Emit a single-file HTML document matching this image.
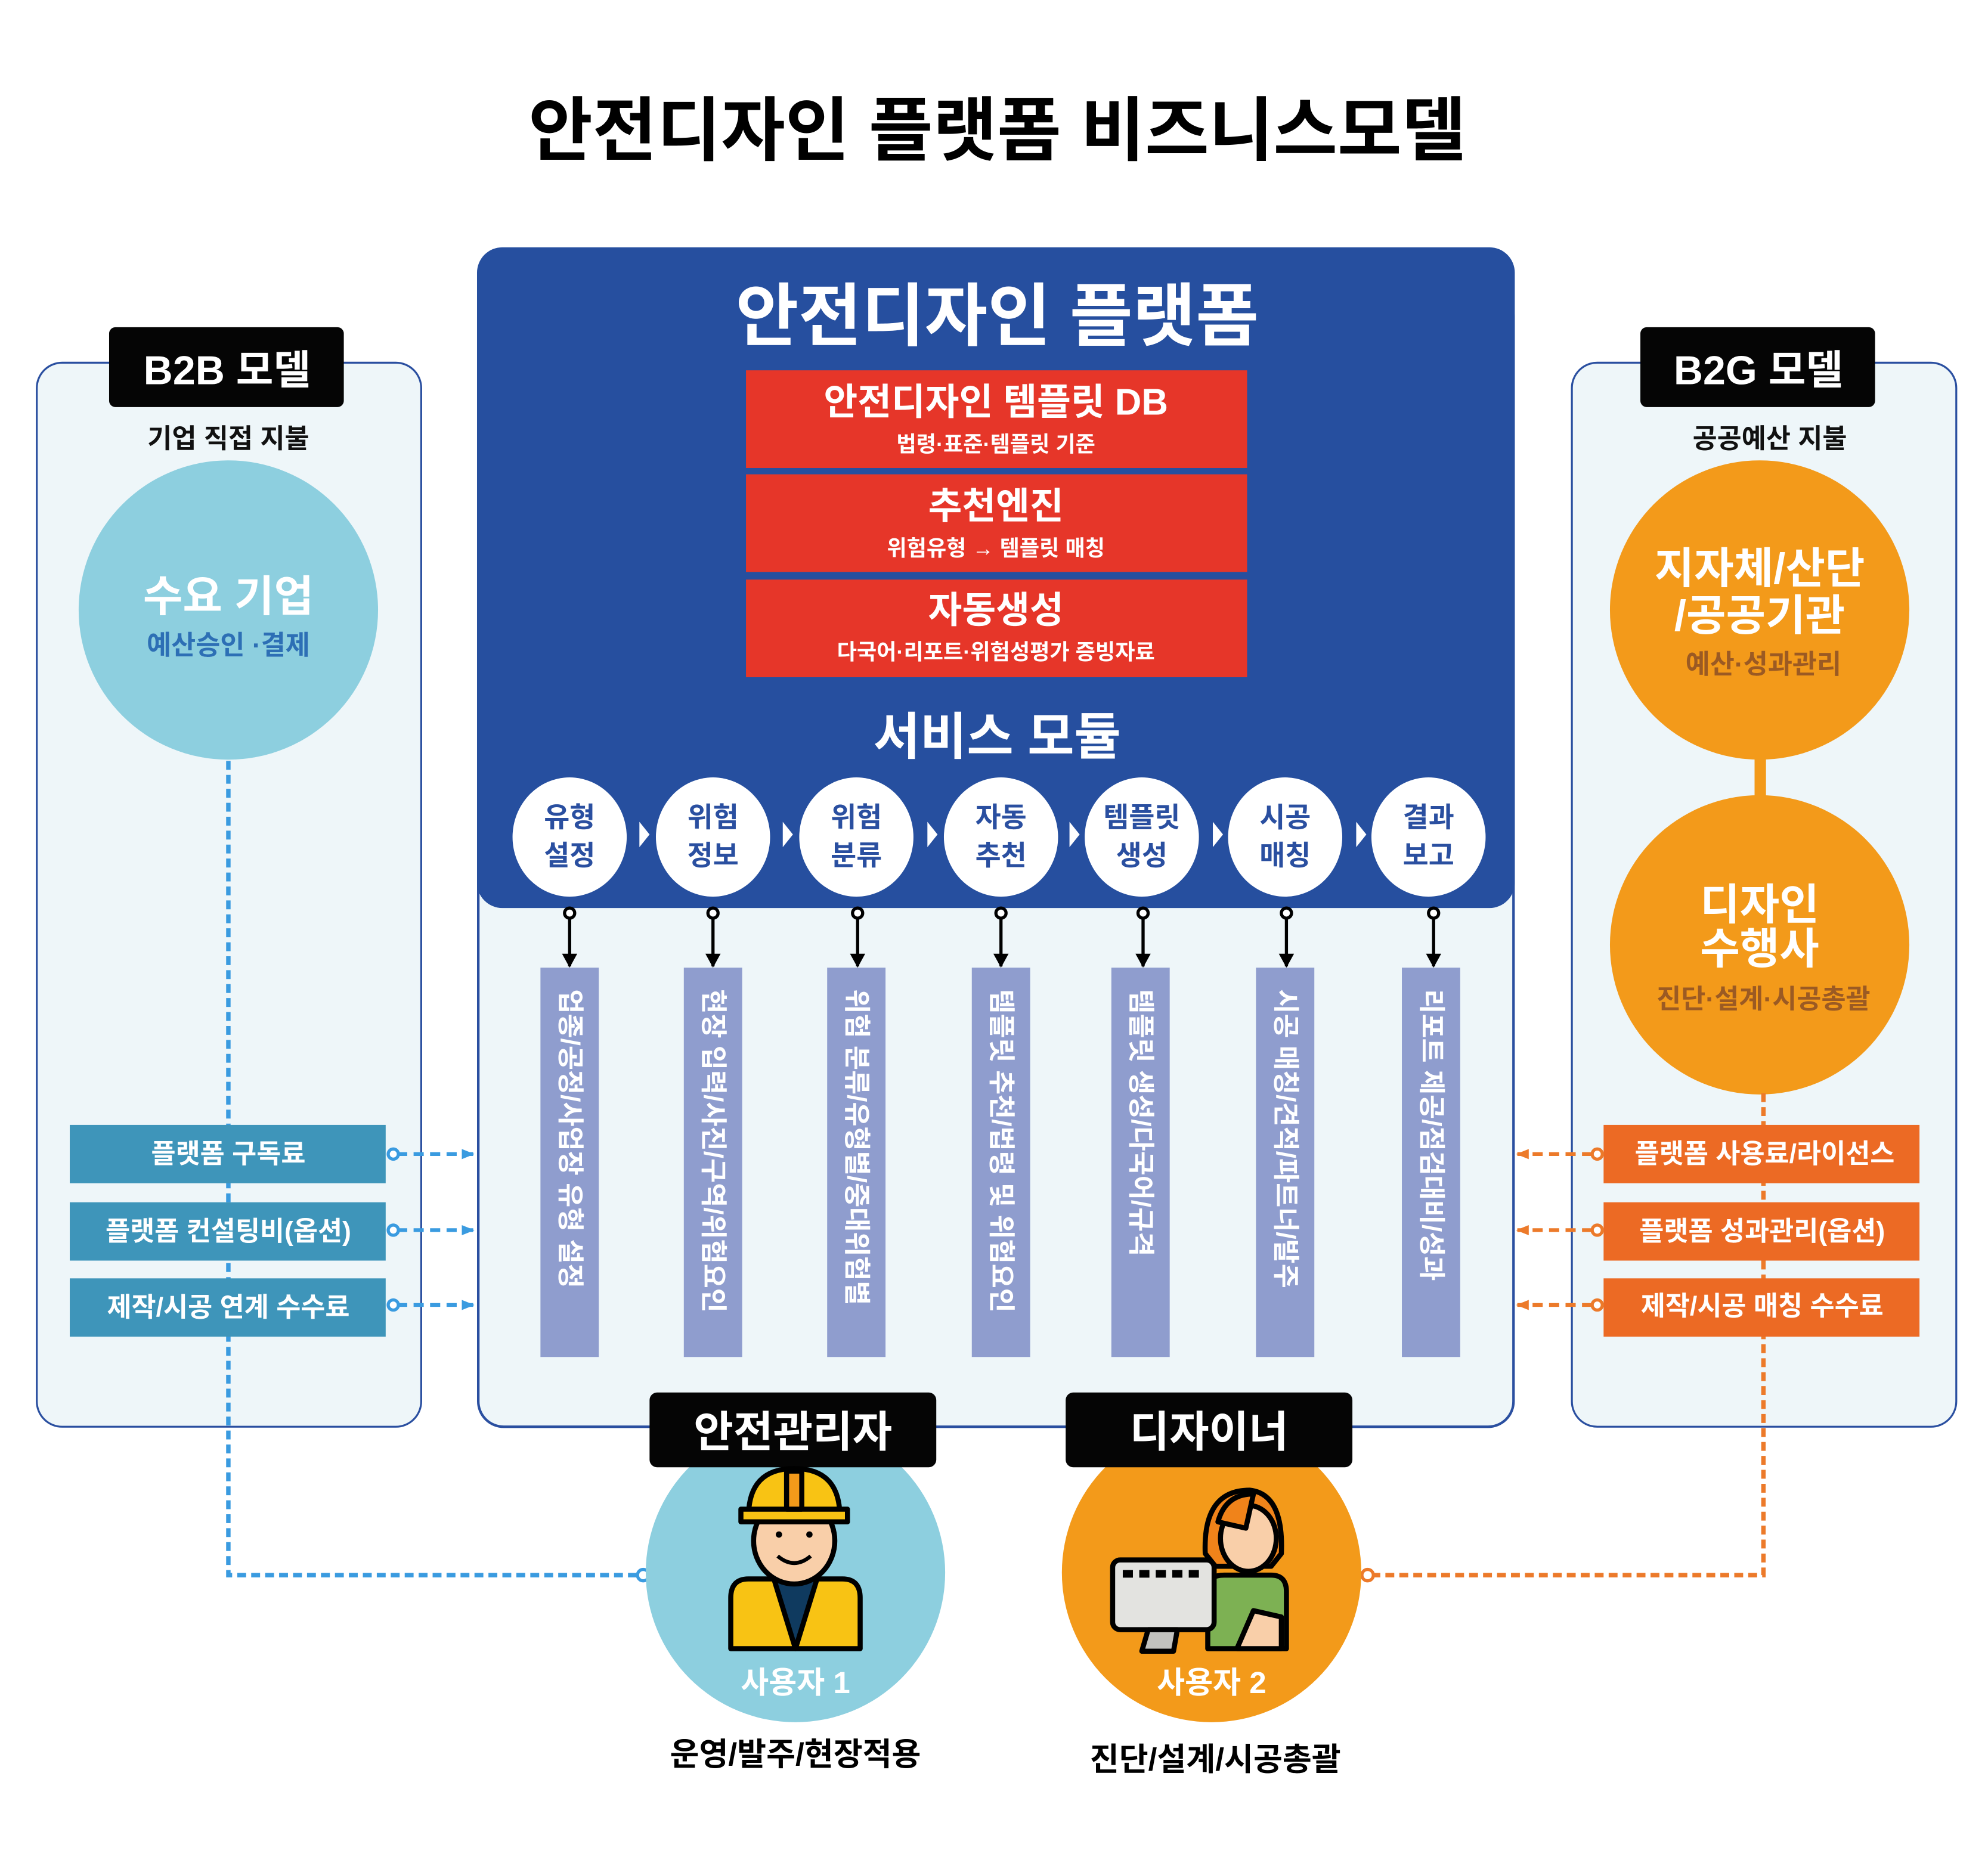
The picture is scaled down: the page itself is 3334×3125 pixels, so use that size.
<!DOCTYPE html>
<html><head><meta charset="utf-8"><style>
html,body{margin:0;padding:0;background:#fff}
svg{display:block}
text{font-family:"Liberation Sans","Noto Sans CJK KR",sans-serif;font-weight:bold}
</style></head><body>
<svg width="3334" height="3125" viewBox="0 0 1567 1469" preserveAspectRatio="none" xmlns="http://www.w3.org/2000/svg">
<defs>
<marker id="ab" markerWidth="10" markerHeight="10" refX="9" refY="5" orient="auto" markerUnits="userSpaceOnUse"><path d="M0,1 L10,5 L0,9 Z" fill="#3a9be0"/></marker>
<marker id="ao" markerWidth="10" markerHeight="10" refX="9" refY="5" orient="auto" markerUnits="userSpaceOnUse"><path d="M0,1 L10,5 L0,9 Z" fill="#ec7a2a"/></marker>
<marker id="ak" markerWidth="12" markerHeight="12" refX="10" refY="6" orient="auto" markerUnits="userSpaceOnUse"><path d="M0,0 L11,6 L0,12 Z" fill="#000"/></marker>
</defs>
<rect width="1567" height="1469" fill="#fff"/>
<text x="786" y="122" font-size="55" text-anchor="middle" fill="#000">안전디자인 플랫폼 비즈니스모델</text>

<!-- left panel -->
<rect x="29" y="286" width="303" height="839" rx="20" fill="#eef6f9" stroke="#2a4fa0" stroke-width="1.5"/>
<rect x="86" y="258" width="185" height="63" rx="5" fill="#050505"/>
<text x="179" y="303" font-size="32" text-anchor="middle" fill="#fff">B2B 모델</text>
<text x="180" y="353" font-size="21" text-anchor="middle" fill="#111">기업 직접 지불</text>
<circle cx="180" cy="481" r="118" fill="#8dcfdf"/>
<text x="180" y="482" font-size="34" text-anchor="middle" fill="#fff">수요 기업</text>
<text x="180" y="516" font-size="21" text-anchor="middle" fill="#2d6fb5">예산승인 ·결제</text>
<path d="M180,600 L180,1242 L503,1242" fill="none" stroke="#3a9be0" stroke-width="3.5" stroke-dasharray="7,4"/>
<circle cx="507" cy="1242" r="4.5" fill="#fff" stroke="#3a9be0" stroke-width="2.5"/>
<g fill="#3e95ba"><rect x="55" y="887" width="249" height="46"/><rect x="55" y="948" width="249" height="46"/><rect x="55" y="1008" width="249" height="46"/></g>
<g font-size="21" fill="#fff" text-anchor="middle"><text x="180" y="917">플랫폼 구독료</text><text x="180" y="978">플랫폼 컨설팅비(옵션)</text><text x="180" y="1038">제작/시공 연계 수수료</text></g>
<g stroke="#3a9be0" stroke-width="3" stroke-dasharray="8,5" fill="none">
<path d="M313,910 L373,910" marker-end="url(#ab)"/><path d="M313,970 L373,970" marker-end="url(#ab)"/><path d="M313,1029 L373,1029" marker-end="url(#ab)"/></g>
<g fill="#fff" stroke="#3a9be0" stroke-width="2.5"><circle cx="310" cy="910" r="4"/><circle cx="310" cy="970" r="4"/><circle cx="310" cy="1029" r="4"/></g>

<!-- right panel -->
<rect x="1239" y="286" width="303" height="839" rx="20" fill="#eef6f9" stroke="#2a4fa0" stroke-width="1.5"/>
<rect x="1293" y="258" width="185" height="63" rx="5" fill="#050505"/>
<text x="1386" y="303" font-size="32" text-anchor="middle" fill="#fff">B2G 모델</text>
<text x="1395" y="353" font-size="21" text-anchor="middle" fill="#111">공공예산 지불</text>
<rect x="1383" y="595" width="9" height="36" fill="#f39a1a"/>
<circle cx="1387" cy="481" r="118" fill="#f39a1a"/>
<circle cx="1387" cy="745" r="118" fill="#f39a1a"/>
<g font-size="34" fill="#fff" text-anchor="middle"><text x="1387" y="460">지자체/산단</text><text x="1387" y="497">/공공기관</text><text x="1387" y="725">디자인</text><text x="1387" y="760">수행사</text></g>
<g font-size="21" fill="#9b5a23" text-anchor="middle"><text x="1390" y="531">예산·성과관리</text><text x="1390" y="795">진단·설계·시공총괄</text></g>
<path d="M1390,862 L1390,1242 L1082,1242" fill="none" stroke="#ec7a2a" stroke-width="3.5" stroke-dasharray="7,4"/>
<circle cx="1078" cy="1242" r="4.5" fill="#fff" stroke="#ec7a2a" stroke-width="2.5"/>
<g fill="#ec6a24"><rect x="1264" y="887" width="249" height="46"/><rect x="1264" y="948" width="249" height="46"/><rect x="1264" y="1008" width="249" height="46"/></g>
<g font-size="21" fill="#fff" text-anchor="middle"><text x="1391" y="917">플랫폼 사용료/라이선스</text><text x="1389" y="978">플랫폼 성과관리(옵션)</text><text x="1389" y="1037">제작/시공 매칭 수수료</text></g>
<g stroke="#ec7a2a" stroke-width="3" stroke-dasharray="8,5" fill="none">
<path d="M1255,910 L1196,910" marker-end="url(#ao)"/><path d="M1255,970 L1196,970" marker-end="url(#ao)"/><path d="M1255,1029 L1196,1029" marker-end="url(#ao)"/></g>
<g fill="#fff" stroke="#ec7a2a" stroke-width="2.5"><circle cx="1259" cy="910" r="4"/><circle cx="1259" cy="970" r="4"/><circle cx="1259" cy="1029" r="4"/></g>

<!-- main platform -->
<rect x="377" y="230" width="816" height="895" rx="20" fill="#eef6f9" stroke="#2a4fa0" stroke-width="2"/>
<rect x="376" y="195" width="818" height="521" rx="20" fill="#264f9f"/>
<text x="786" y="268" font-size="54" text-anchor="middle" fill="#fff">안전디자인 플랫폼</text>
<g fill="#e63629"><rect x="588" y="292" width="395" height="77"/><rect x="588" y="374" width="395" height="77"/><rect x="588" y="457" width="395" height="77"/></g>
<g fill="#fff" text-anchor="middle">
<text x="785" y="327" font-size="29">안전디자인 템플릿 DB</text><text x="785" y="356" font-size="17" font-weight="normal">법령·표준·템플릿 기준</text>
<text x="785" y="409" font-size="29">추천엔진</text><text x="785" y="438" font-size="17" font-weight="normal">위험유형 → 템플릿 매칭</text>
<text x="785" y="491" font-size="29">자동생성</text><text x="785" y="520" font-size="17" font-weight="normal">다국어·리포트·위험성평가 증빙자료</text>
<text x="786" y="595" font-size="40">서비스 모듈</text></g>
<g fill="#fff">
<ellipse cx="449" cy="660" rx="45" ry="47"/><ellipse cx="562" cy="660" rx="45" ry="47"/><ellipse cx="675" cy="660" rx="45" ry="47"/><ellipse cx="789" cy="660" rx="45" ry="47"/><ellipse cx="900" cy="660" rx="45" ry="47"/><ellipse cx="1013" cy="660" rx="45" ry="47"/><ellipse cx="1126" cy="660" rx="45" ry="47"/>
<path d="M504,648 L512,658 L504,668Z"/><path d="M617,648 L625,658 L617,668Z"/><path d="M731,648 L739,658 L731,668Z"/><path d="M843,648 L851,658 L843,668Z"/><path d="M956,648 L964,658 L956,668Z"/><path d="M1069,648 L1077,658 L1069,668Z"/>
</g>
<g font-size="22" fill="#2a4fa0" text-anchor="middle">
<text x="449" y="652">유형</text><text x="449" y="682">설정</text>
<text x="562" y="652">위험</text><text x="562" y="682">정보</text>
<text x="675" y="652">위험</text><text x="675" y="682">분류</text>
<text x="789" y="652">자동</text><text x="789" y="682">추천</text>
<text x="900" y="652">템플릿</text><text x="900" y="682">생성</text>
<text x="1013" y="652">시공</text><text x="1013" y="682">매칭</text>
<text x="1126" y="652">결과</text><text x="1126" y="682">보고</text></g>
<g stroke="#000" stroke-width="2.5" fill="none">
<path d="M449,724 L449,762" marker-end="url(#ak)"/><path d="M562,724 L562,762" marker-end="url(#ak)"/><path d="M676,724 L676,762" marker-end="url(#ak)"/><path d="M789,724 L789,762" marker-end="url(#ak)"/><path d="M901,724 L901,762" marker-end="url(#ak)"/><path d="M1014,724 L1014,762" marker-end="url(#ak)"/><path d="M1130,724 L1130,762" marker-end="url(#ak)"/></g>
<g fill="#fff" stroke="#000" stroke-width="2.5"><circle cx="449" cy="720" r="4"/><circle cx="562" cy="720" r="4"/><circle cx="676" cy="720" r="4"/><circle cx="789" cy="720" r="4"/><circle cx="901" cy="720" r="4"/><circle cx="1014" cy="720" r="4"/><circle cx="1130" cy="720" r="4"/></g>
<g fill="#8f9dce"><rect x="426" y="763" width="46" height="307"/><rect x="539" y="763" width="46" height="307"/><rect x="652" y="763" width="46" height="307"/><rect x="766" y="763" width="46" height="307"/><rect x="876" y="763" width="46" height="307"/><rect x="990" y="763" width="46" height="307"/><rect x="1105" y="763" width="46" height="307"/></g>
<g font-size="21" fill="#fff" dominant-baseline="central">
<text transform="translate(449,780) rotate(90)">업종/공정/사업장 유형 설정</text>
<text transform="translate(562,780) rotate(90)">현장 입력/사진/구역/위험요인</text>
<text transform="translate(675,780) rotate(90)">위험 분류/유형별/중대위험별</text>
<text transform="translate(789,780) rotate(90)">템플릿 추천/법령 및 위험요인</text>
<text transform="translate(899,780) rotate(90)">템플릿 생성/다국어/규격</text>
<text transform="translate(1013,780) rotate(90)">시공 매칭/견적/파트너/발주</text>
<text transform="translate(1128,780) rotate(90)">리포트 제공/점검대비/성과</text></g>

<!-- users -->
<circle cx="627" cy="1240" r="118" fill="#8dcfdf"/>
<circle cx="955" cy="1240" r="118" fill="#f39a1a"/>
<rect x="512" y="1098" width="226" height="59" rx="6" fill="#050505"/>
<rect x="840" y="1098" width="226" height="59" rx="6" fill="#050505"/>
<g fill="#fff" text-anchor="middle" font-size="34"><text x="625" y="1141">안전관리자</text><text x="953" y="1141">디자이너</text></g>
<g fill="#fff" text-anchor="middle" font-size="24"><text x="627" y="1335">사용자 1</text><text x="955" y="1335">사용자 2</text></g>
<g fill="#000" text-anchor="middle" font-size="25"><text x="627" y="1392">운영/발주/현장적용</text><text x="958" y="1396">진단/설계/시공총괄</text></g>

<!-- worker icon -->
<g stroke="#000" stroke-width="4" stroke-linejoin="round">
<path d="M576,1300 L576,1260 Q576,1245 590,1245 L664,1245 Q678,1245 678,1260 L678,1300 Z" fill="#f8c314"/>
<path d="M610,1245 L627,1300 L644,1245 Z" fill="#0f3a5f"/>
<ellipse cx="626" cy="1215" rx="32" ry="34" fill="#f9cfa9"/>
<path d="M590,1196 Q590,1158 626,1158 Q662,1158 662,1196 Z" fill="#f8c314"/>
<rect x="584" y="1190" width="84" height="10" fill="#f8c314"/>
<rect x="620" y="1160" width="12" height="30" fill="#f39a1a"/>
</g>
<path d="M613,1227 Q626,1238 639,1227" stroke="#000" stroke-width="3" fill="none"/>
<circle cx="614" cy="1210" r="2.5"/><circle cx="638" cy="1210" r="2.5"/>

<!-- designer icon -->
<g stroke="#000" stroke-width="4" stroke-linejoin="round">
<path d="M952,1300 L952,1252 Q952,1242 965,1242 L1002,1242 Q1014,1242 1014,1255 L1014,1300 Z" fill="#7db153"/>
<path d="M950,1225 Q948,1175 985,1175 Q1012,1178 1010,1225 L1002,1235 L958,1235 Z" fill="#f0831a"/>
<ellipse cx="984" cy="1213" rx="22" ry="26" fill="#f9cfa9"/>
<path d="M960,1200 Q966,1178 988,1178 L982,1205 Z" fill="#f0831a"/>
<rect x="877" y="1230" width="80" height="55" rx="6" fill="#e3e3e0"/>
<path d="M905,1285 L900,1302 L925,1302 L928,1285 Z" fill="#c2c2be"/>
<path d="M975,1300 L988,1270 L1010,1275 L1010,1300 Z" fill="#f9cfa9"/>
</g>
<g fill="#000"><rect x="885" y="1238" width="8" height="6"/><rect x="898" y="1238" width="8" height="6"/><rect x="911" y="1238" width="8" height="6"/><rect x="924" y="1238" width="8" height="6"/><rect x="937" y="1238" width="8" height="6"/></g>
</svg>
</body></html>
